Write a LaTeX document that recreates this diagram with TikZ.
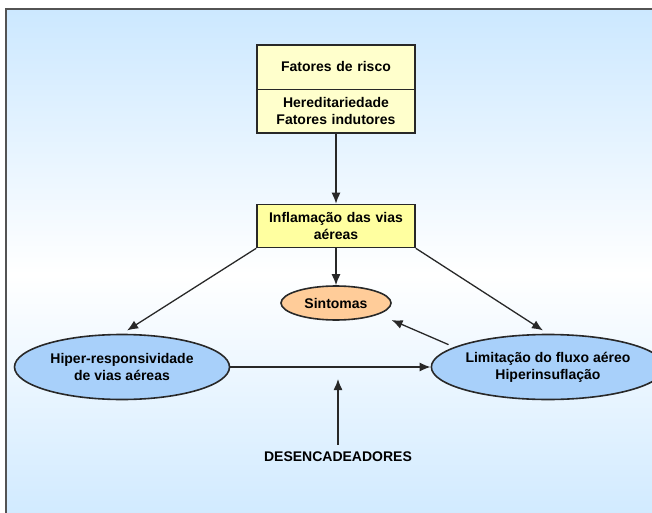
\documentclass[tikz,border=0pt]{standalone}
\usepackage{fontspec}
\setmainfont{Liberation Sans}
\usetikzlibrary{shapes}
\usetikzlibrary{arrows.meta}

\definecolor{fundo}{RGB}{204,232,255}
\definecolor{amarelo}{RGB}{255,255,204}
\definecolor{amarelof}{RGB}{255,255,160}
\definecolor{laranja}{RGB}{255,204,153}
\definecolor{azul}{RGB}{168,208,250}
\definecolor{borda}{RGB}{40,40,40}

\begin{document}
\begin{tikzpicture}[x=1pt,y=-1pt]
			\tikzstyle{every node}=[font=\fontsize{14}{17}\selectfont\bfseries]
			\tikzstyle{caixa}=[draw=borda,line width=1.6pt,align=center]
			\tikzstyle{risco}=[caixa,rectangle split,rectangle split parts=2,fill=amarelo,text width=150pt,inner xsep=4pt,inner ysep=7.5pt]
			\tikzstyle{elipse}=[ellipse,draw=borda,line width=1.6pt,align=center,inner sep=0pt]
			\tikzstyle{seta}=[-{Latex[length=11pt,width=9pt]},line width=1.3pt,draw=borda]

			\useasboundingbox (0,0) rectangle (652,513);
			\clip (0,0) rectangle (652,513);
			\shade[top color=fundo,bottom color=fundo,middle color=white] (6,9) rectangle (660,540);
			\draw[line width=2pt,draw=borda!80] (6,540) -- (6,9) -- (660,9);

			\node[risco,anchor=north] (fatores) at (336,44)
				{\rule[-9.5pt]{0pt}{28pt}Fatores de risco \nodepart{two} Hereditariedade\\Fatores indutores};
			\node[caixa,fill=amarelof,text width=150pt,inner xsep=4pt,minimum height=43pt] (inflam) at (336,226)
				{Inflamação das vias\\aéreas};
			\node[elipse,fill=laranja,minimum width=110pt,minimum height=34pt] (sint) at (336,303) {Sintomas};
			\node[elipse,fill=azul,minimum width=215pt,minimum height=65pt] (hiper) at (122,367)
				{Hiper-responsividade\\de vias aéreas};
			\node[elipse,fill=azul,minimum width=200pt,minimum height=65pt] (limit) at (548,367)
				{Limitação do fluxo aéreo\\Hiperinsuflação};
			\node (desenc) at (338,457) {DESENCADEADORES};
			\coordinate (gatilho) at (338,379);

			\draw[seta] (fatores.south) -- (inflam.north);
			\draw[seta] (inflam.south) -- (sint.north);
			\draw[seta,shorten >=6pt] (inflam.south west) -- (hiper.north);
			\draw[seta,shorten >=6pt] (inflam.south east) -- (limit.north);
			\draw[seta] (hiper.east) -- (limit.west);
			\draw[seta,shorten <=6pt,shorten >=14pt] (limit.168) -- (sint.-15);
			\draw[seta,shorten <=4pt] (desenc.north) -- (gatilho);
\end{tikzpicture}
\end{document}
